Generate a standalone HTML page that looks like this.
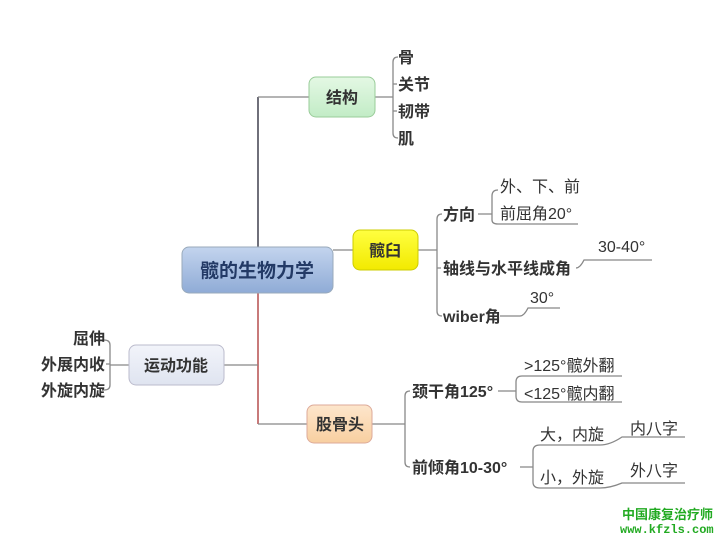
<!DOCTYPE html>
<html><head><meta charset="utf-8"><style>
body{margin:0;background:#fff}
svg text{font-family:"Liberation Sans","Noto Sans CJK SC",sans-serif;fill:#333}
.b{font-weight:bold}
</style></head><body>
<svg width="720" height="540" viewBox="0 0 720 540" xmlns="http://www.w3.org/2000/svg">
<defs>
<linearGradient id="gb" x1="0" y1="0" x2="0" y2="1"><stop offset="0" stop-color="#c3d4ee"/><stop offset="1" stop-color="#8fabd6"/></linearGradient>
<linearGradient id="gg" x1="0" y1="0" x2="0" y2="1"><stop offset="0" stop-color="#e4f8e4"/><stop offset="1" stop-color="#c2ecc6"/></linearGradient>
<linearGradient id="gy" x1="0" y1="0" x2="0" y2="1"><stop offset="0" stop-color="#ffff40"/><stop offset="1" stop-color="#f2ea00"/></linearGradient>
<linearGradient id="gp" x1="0" y1="0" x2="0" y2="1"><stop offset="0" stop-color="#fde6cc"/><stop offset="1" stop-color="#f8cfa0"/></linearGradient>
<linearGradient id="gw" x1="0" y1="0" x2="0" y2="1"><stop offset="0" stop-color="#f2f4fa"/><stop offset="1" stop-color="#dfe4f0"/></linearGradient>
</defs>
<g fill="none" stroke="#888" stroke-width="1.3">
<path d="M258 97V250" stroke="#223"/>
<path d="M258 293V424" stroke="#a33"/>
<path d="M258 97H309M333 250H353M224 365H258M258 424H307"/>
<path d="M375 97H393M398 57q-5 0-5 5V133q0 5 5 5M393 84h4M393 111h4"/>
<path d="M418 250H437M442 214q-5 0-5 5V311q0 5 5 5M437 268h4"/>
<path d="M478 214h14M498 190q-6 0-6 6V220q0 4 6 4H578"/>
<path d="M576 268q4 0 8-8H652"/>
<path d="M500 316H520q4 0 8-8H560"/>
<path d="M129 365H110M104 340q6 0 6 5V385q0 5-6 5M110 364h-4"/>
<path d="M372 424H405M410 391q-5 0-5 5V462q0 5 5 5"/>
<path d="M498 391H516M522 376q-6 0-6 6V396q0 6 6 6H622"/>
<path d="M522 376H622"/>
<path d="M520 467H533M540 445q-7 0-7 6V482q0 6 7 6H600"/>
<path d="M540 445H600q10 0 22-8H685M600 488q10 0 22-5H685"/>
</g>
<rect x="182" y="247" width="151" height="46" rx="7" fill="url(#gb)" stroke="#9ab" />
<text x="257" y="277" text-anchor="middle" class="b" font-size="19" style="fill:#233a66">髋的生物力学</text>
<rect x="309" y="77" width="66" height="40" rx="7" fill="url(#gg)" stroke="#9c9"/>
<text x="342" y="103" text-anchor="middle" class="b" font-size="16">结构</text>
<rect x="353" y="230" width="65" height="40" rx="7" fill="url(#gy)" stroke="#cc0"/>
<text x="385" y="256" text-anchor="middle" class="b" font-size="16">髋臼</text>
<rect x="129" y="345" width="95" height="40" rx="7" fill="url(#gw)" stroke="#bbc"/>
<text x="176" y="371" text-anchor="middle" class="b" font-size="16">运动功能</text>
<rect x="307" y="405" width="65" height="38" rx="7" fill="url(#gp)" stroke="#da9"/>
<text x="340" y="430" text-anchor="middle" class="b" font-size="16">股骨头</text>
<g class="b" font-size="16">
<text x="398" y="63">骨</text><text x="398" y="90">关节</text><text x="398" y="117">韧带</text><text x="398" y="144">肌</text>
<text x="443" y="220">方向</text><text x="443" y="274">轴线与水平线成角</text><text x="443" y="322">wiber角</text>
<text x="105" y="344" text-anchor="end">屈伸</text><text x="105" y="370" text-anchor="end">外展内收</text><text x="105" y="396" text-anchor="end">外旋内旋</text>
<text x="412" y="397">颈干角125°</text><text x="412" y="473">前倾角10-30°</text>
</g>
<g font-size="16">
<text x="500" y="192">外、下、前</text><text x="500" y="219">前屈角20°</text>
<text x="598" y="252">30-40°</text><text x="530" y="303">30°</text>
<text x="524" y="371">&gt;125°髋外翻</text><text x="524" y="399">&lt;125°髋内翻</text>
<text x="540" y="440">大，内旋</text><text x="540" y="483">小，外旋</text>
<text x="630" y="434">内八字</text><text x="630" y="476">外八字</text>
</g>
<text x="622" y="519" class="b" font-size="13" style="fill:#2a2">中国康复治疗师</text>
<text x="620" y="533" class="b" font-size="12" style="fill:#2a2;font-family:'Liberation Mono',monospace">www.kfzls.com</text>
</svg>
</body></html>
